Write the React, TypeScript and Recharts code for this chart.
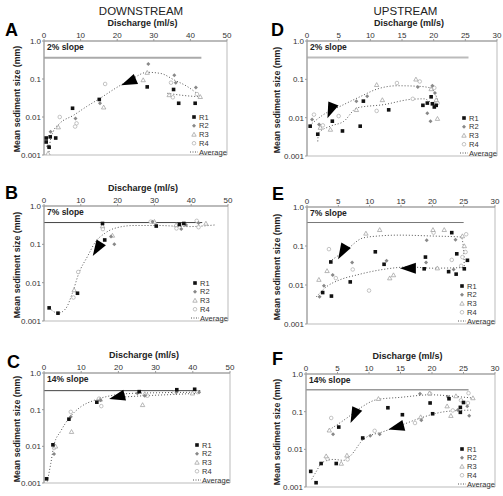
import React from "react";
import { ComposedChart, Scatter, Line, XAxis, YAxis, ReferenceLine, ReferenceArea } from "recharts";

type P = [number, number];

const FONT = '"Liberation Sans", Arial, sans-serif';

// discharge (ml/s), mean sediment size (mm)
const A_R1: P[] = [[0.6, 0.0028], [0.6, 0.0022], [1.4, 0.0016], [1.7, 0.003], [3.2, 0.0028], [7.8, 0.017], [15.1, 0.029], [28.2, 0.062], [35.4, 0.053], [36.8, 0.023], [41.3, 0.023]];
const A_R2: P[] = [[1.1, 0.0017], [1.8, 0.0041], [8.6, 0.0092], [15.3, 0.023], [28.5, 0.25], [35.6, 0.125], [36.0, 0.08], [41.5, 0.06]];
const A_R3: P[] = [[1.1, 0.0011], [3.9, 0.0054], [16.3, 0.018], [27.1, 0.094], [28.2, 0.147], [34.2, 0.038], [42.7, 0.034]];
const A_R4: P[] = [[4.3, 0.01], [8.9, 0.0068], [8.5, 0.0056], [16.7, 0.074], [34.7, 0.08], [35.2, 0.033], [41.8, 0.04]];
const A_AVG: P[] = [[1.3, 0.001], [1.6, 0.002], [2.5, 0.0041], [4.3, 0.0068], [8, 0.011], [11.7, 0.019], [15.3, 0.031], [19.9, 0.06], [24, 0.1], [28.2, 0.15], [31.9, 0.14], [35.6, 0.094], [39.2, 0.063], [42.9, 0.034]];
const A_AVG2: P[] = [[33.7, 0.042], [39.2, 0.036], [42.9, 0.034]];
const A_ARROWS = [{ x: 23.1, y: 0.083, a: 157 }];

const B_R1: P[] = [[1.4, 0.0022], [3.8, 0.0016], [9.1, 0.0053], [16.5, 0.13], [15.9, 0.35], [30.5, 0.3], [36.8, 0.33], [38, 0.35]];
const B_R2: P[] = [[19.1, 0.1], [18.2, 0.16], [29.5, 0.39], [37.3, 0.25], [38.6, 0.32], [42, 0.36]];
const B_R3: P[] = [[8.2, 0.0064], [15.9, 0.3], [18.6, 0.17], [30, 0.39], [35.9, 0.32], [44, 0.35]];
const B_R4: P[] = [[8, 0.0041], [9.3, 0.019], [16, 0.25], [29, 0.39], [36, 0.26], [42, 0.28], [41.5, 0.41]];
const B_AVG: P[] = [[1.4, 0.0022], [3.8, 0.0016], [5.9, 0.0021], [7.7, 0.0053], [9.5, 0.018], [11.8, 0.048], [14.1, 0.12], [16.4, 0.19], [19.1, 0.26], [24.5, 0.31], [30.9, 0.31], [39.1, 0.29], [46.4, 0.32]];
const B_ARROWS = [{ x: 14.4, y: 0.075, a: 122 }];

const C_R1: P[] = [[0.7, 0.0013], [2.4, 0.011], [6.7, 0.055], [14.2, 0.16], [21.1, 0.25], [25.6, 0.31], [35.7, 0.35], [40.5, 0.36]];
const C_R2: P[] = [[2.7, 0.0062], [7.2, 0.064], [15.2, 0.18], [25.1, 0.28], [27.1, 0.24], [35.6, 0.3], [41.7, 0.3]];
const C_R3: P[] = [[3.1, 0.01], [7.4, 0.025], [15.1, 0.19], [26.5, 0.135], [27.1, 0.27], [39.9, 0.28]];
const C_R4: P[] = [[2.7, 0.009], [7.2, 0.087], [14.8, 0.2], [15.4, 0.125], [27.8, 0.24], [35, 0.29], [41.3, 0.3]];
const C_AVG: P[] = [[0.9, 0.0011], [1.8, 0.0033], [2.7, 0.011], [4.5, 0.026], [6.7, 0.058], [9.9, 0.12], [13.5, 0.18], [17.9, 0.24], [24.2, 0.28], [31.4, 0.29], [41.3, 0.3]];
const C_AVG2: P[] = [[21, 0.22], [27, 0.24], [35, 0.26], [41.3, 0.28]];
const C_ARROWS = [{ x: 19.6, y: 0.22, a: 166 }];

const D_R1: P[] = [[0.5, 0.006], [1.7, 0.0037], [4, 0.0081], [5.6, 0.0045], [8.4, 0.006], [8.9, 0.027], [12.9, 0.016], [18.3, 0.021], [19, 0.024], [19.6, 0.035], [19.8, 0.023], [20.1, 0.019], [20.4, 0.021]];
const D_R2: P[] = [[0.8, 0.009], [1.9, 0.0066], [7.8, 0.027], [9.5, 0.036], [17.5, 0.063], [19, 0.013], [19.5, 0.0081], [19.8, 0.068], [20.2, 0.044]];
const D_R3: P[] = [[2.1, 0.0055], [3.7, 0.0049], [7.8, 0.016], [11, 0.072], [11.9, 0.029], [17.2, 0.1], [19.6, 0.056], [20.6, 0.0094], [20.4, 0.029]];
const D_R4: P[] = [[1.1, 0.012], [2.5, 0.0063], [5, 0.011], [11, 0.015], [14.2, 0.08], [16.7, 0.031], [17.8, 0.088], [20.1, 0.06], [20.6, 0.024]];
const D_AVG: P[] = [[0.4, 0.0062], [2.6, 0.012], [5.3, 0.02], [8.5, 0.036], [11.1, 0.056], [14.3, 0.068], [17.5, 0.066], [19.6, 0.059], [20.6, 0.03]];
const D_AVG2: P[] = [[1.7, 0.0024], [1.8, 0.004], [3.7, 0.006], [5.8, 0.008], [7.9, 0.018], [12.2, 0.022], [16.4, 0.03], [18.5, 0.031], [19.8, 0.025], [20.6, 0.03]];
const D_ARROWS = [{ x: 3.7, y: 0.015, a: 112 }];

const E_R1: P[] = [[2.5, 0.0064], [3.8, 0.039], [3.9, 0.0052], [6.9, 0.012], [10.9, 0.071], [12.3, 0.034], [18.7, 0.026], [18.9, 0.052], [22.6, 0.022], [23.1, 0.22], [23.8, 0.019], [23.9, 0.063], [25.1, 0.026], [25.6, 0.043]];
const E_R2: P[] = [[2, 0.005], [2.7, 0.0095], [4.1, 0.018], [7.2, 0.038], [12.7, 0.042], [19, 0.038], [19.1, 0.14], [23.4, 0.025], [23.7, 0.145]];
const E_R3: P[] = [[1.9, 0.0137], [3.2, 0.023], [9.4, 0.21], [11.6, 0.26], [13.2, 0.015], [13.8, 0.018], [20.1, 0.26], [20.8, 0.027], [21.9, 0.26], [24.8, 0.18], [25.1, 0.1]];
const E_R4: P[] = [[3.5, 0.083], [4.6, 0.015], [7.3, 0.025], [9.9, 0.0072], [20.2, 0.22], [23.1, 0.044], [24.6, 0.031], [24.8, 0.052], [25.3, 0.07], [25.4, 0.2]];
const E_AVG: P[] = [[3.6, 0.04], [6.3, 0.08], [8.9, 0.16], [11.3, 0.18], [14.7, 0.19], [20.1, 0.18], [24.6, 0.17], [25, 0.08], [25.1, 0.028]];
const E_AVG2: P[] = [[1.5, 0.005], [3.1, 0.009], [5.2, 0.0135], [7.9, 0.018], [12.1, 0.025], [16.3, 0.029], [20.1, 0.027], [25.1, 0.028]];
const E_ARROWS = [{ x: 5.6, y: 0.069, a: 120 }, { x: 16.1, y: 0.027, a: 180 }];

const F_R1: P[] = [[0.75, 0.0026], [1.6, 0.0013], [2.4, 0.0042], [4.8, 0.0042], [5.2, 0.039], [9, 0.02], [13, 0.127], [15.3, 0.083], [19.7, 0.17], [20.1, 0.088], [22.7, 0.22], [24.5, 0.13], [24.5, 0.096], [25, 0.175]];
const F_R2: P[] = [[4.3, 0.025], [10.2, 0.023], [11.7, 0.025], [18.1, 0.3], [18.3, 0.059], [22.5, 0.25], [24.1, 0.11], [25.6, 0.14], [25.9, 0.078]];
const F_R3: P[] = [[3.2, 0.0066], [3.7, 0.032], [5.6, 0.0042], [6.5, 0.0069], [11.5, 0.22], [18.2, 0.072], [19.6, 0.31], [22.4, 0.14], [23, 0.078], [23.8, 0.26], [26.5, 0.23]];
const F_R4: P[] = [[3.4, 0.0056], [4, 0.068], [6.6, 0.0054], [10.9, 0.031], [17.3, 0.05], [19.7, 0.3], [23.3, 0.108], [24.6, 0.2], [25.7, 0.17], [25.8, 0.31]];
const F_AVG: P[] = [[3.7, 0.033], [6.5, 0.068], [8.6, 0.125], [11.3, 0.21], [15, 0.24], [19.8, 0.28], [24.1, 0.25], [26.5, 0.23]];
const F_AVG2: P[] = [[0.9, 0.0016], [1.7, 0.0027], [2.5, 0.0044], [4.4, 0.0054], [6, 0.0051], [7, 0.0066], [9.2, 0.019], [12.4, 0.03], [15.3, 0.045], [18.2, 0.068], [21.4, 0.096], [24.6, 0.108], [26.2, 0.11]];
const F_ARROWS = [{ x: 7.6, y: 0.078, a: 115 }, { x: 14.3, y: 0.038, a: 165 }];

const DOWN_TICKS = [0, 10, 20, 30, 40, 50];
const UP_TICKS = [0, 5, 10, 15, 20, 25, 30];
const Y_TICKS = [0.001, 0.01, 0.1, 1];
const LEGEND = ["R1", "R2", "R3", "R4", "Average"];

const xy = (pts: P[]) => pts.map(([x, y]) => ({ x, y }));
const fmtY = (v: number) => (v === 1 ? "1.0" : String(v));

const Square = (p: any) => <rect x={p.cx - 1.8} y={p.cy - 1.8} width={3.6} height={3.6} fill="#111" />;
const Diamond = (p: any) => (
  <polygon points={`${p.cx},${p.cy - 2} ${p.cx + 2},${p.cy} ${p.cx},${p.cy + 2} ${p.cx - 2},${p.cy}`} fill="#888" />
);
const Tri = (p: any) => (
  <polygon points={`${p.cx},${p.cy - 2.2} ${p.cx + 2.2},${p.cy + 1.7} ${p.cx - 2.2},${p.cy + 1.7}`} fill="#fff" stroke="#999" strokeWidth={0.7} />
);
const Circ = (p: any) => <circle cx={p.cx} cy={p.cy} r={1.8} fill="#fff" stroke="#aaa" strokeWidth={0.7} />;
const Arrow = (p: any) => {
  const { cx, cy } = p;
  const a = p.payload.a;
  return (
    <polygon
      points={`${cx + 8},${cy} ${cx - 8},${cy - 5.5} ${cx - 8},${cy + 5.5}`}
      fill="#000"
      transform={`rotate(${a} ${cx} ${cy})`}
    />
  );
};

function Legend({ right, bottom }: { right: number; bottom: number }) {
  const x0 = right - 37;
  const y0 = bottom - 42;
  return (
    <svg style={{ position: "absolute", left: x0, top: y0, overflow: "visible" }} width={44} height={46}>
      {LEGEND.map((name, i) => {
        const cy = 4 + i * 8.75;
        const cx = 4;
        let mark = null;
        if (i === 0) mark = <Square cx={cx} cy={cy} />;
        if (i === 1) mark = <Diamond cx={cx} cy={cy} />;
        if (i === 2) mark = <Tri cx={cx} cy={cy} />;
        if (i === 3) mark = <Circ cx={cx} cy={cy} />;
        if (i === 4) mark = <line x1={0} x2={8} y1={cy} y2={cy} stroke="#555" strokeDasharray="1 1.5" />;
        return (
          <g key={name}>
            {mark}
            <text x={9} y={cy + 2.7} fontSize={7.5} fill="#333" fontFamily={FONT}>
              {name}
            </text>
          </g>
        );
      })}
    </svg>
  );
}

function Panel(props: any) {
  const { left, top, w, h, xMax, ticks, slopeY, slopeX, slopeColor, slopeWidth, label, r1, r2, r3, r4, avgs, arrows, title } = props;
  const tick = { fontSize: 8, fill: "#333", fontFamily: FONT };
  return (
    <>
      <div style={{ position: "absolute", left: left - 44, top: top - 22 }}>
        <ComposedChart width={44 + w + 12} height={22 + h + 8} margin={{ top: 0, right: 12, bottom: 8, left: 0 }}>
          <XAxis
            type="number"
            dataKey="x"
            orientation="top"
            domain={[0, xMax]}
            ticks={ticks}
            interval={0}
            allowDataOverflow
            height={22}
            tickSize={2}
            tickMargin={1}
            stroke="#999"
            tick={tick}
          />
          <YAxis
            type="number"
            dataKey="y"
            scale="log"
            domain={[0.001, 1]}
            ticks={Y_TICKS}
            interval={0}
            allowDataOverflow
            width={44}
            tickSize={2}
            tickMargin={1}
            tickFormatter={fmtY}
            stroke="#999"
            tick={tick}
          />
          <ReferenceArea x1={0} x2={xMax} y1={0.001} y2={1} fill="none" stroke="#aaa" strokeWidth={0.8} />
          <ReferenceLine
            segment={[{ x: 0, y: slopeY }, { x: slopeX, y: slopeY }]}
            stroke={slopeColor}
            strokeWidth={slopeWidth}
          />
          {avgs.map((a: P[], i: number) => (
            <Line
              key={i}
              data={xy(a)}
              dataKey="y"
              type="monotone"
              dot={false}
              stroke="#555"
              strokeWidth={1}
              strokeDasharray="1 2"
              isAnimationActive={false}
            />
          ))}
          <Scatter data={xy(r4)} shape={Circ} isAnimationActive={false} />
          <Scatter data={xy(r3)} shape={Tri} isAnimationActive={false} />
          <Scatter data={xy(r2)} shape={Diamond} isAnimationActive={false} />
          <Scatter data={xy(r1)} shape={Square} isAnimationActive={false} />
          <Scatter data={arrows} shape={Arrow} isAnimationActive={false} />
        </ComposedChart>
      </div>
      <div
        style={{
          position: "absolute",
          left: left + 3,
          top: top + 1,
          fontSize: 8.5,
          fontWeight: "bold",
          color: "#222",
          lineHeight: "10px",
          whiteSpace: "nowrap",
        }}
      >
        {label}
      </div>
      {title && (
        <div
          style={{
            position: "absolute",
            left: left + w / 2 + 7,
            top: top - 18,
            transform: "translate(-50%, -50%)",
            fontSize: 9,
            fontWeight: "bold",
            color: "#222",
            whiteSpace: "nowrap",
          }}
        >
          Discharge (ml/s)
        </div>
      )}
      <div
        style={{
          position: "absolute",
          left: left < 200 ? 16.5 : 277,
          top: top + h / 2 + 1,
          transform: "translate(-50%, -50%) rotate(-90deg)",
          fontSize: 8.8,
          fontWeight: "bold",
          color: "#222",
          whiteSpace: "nowrap",
        }}
      >
        Mean sediment size (mm)
      </div>
      <Legend right={left + w} bottom={top + h} />
    </>
  );
}

const letter = (t: string, x: number, y: number) => (
  <div style={{ position: "absolute", left: x, top: y, fontSize: 18, fontWeight: "bold", lineHeight: 1, color: "#000" }}>{t}</div>
);

export default function App() {
  return (
    <div
      style={{
        position: "absolute",
        left: 0,
        top: 0,
        width: 503,
        height: 496,
        background: "#fff",
        fontFamily: FONT,
        overflow: "hidden",
      }}
    >
      <div style={{ position: "absolute", left: 141, top: 5.5, transform: "translateX(-50%)", fontSize: 11.5, lineHeight: 1, color: "#222" }}>
        DOWNSTREAM
      </div>
      <div style={{ position: "absolute", left: 405.5, top: 5.5, transform: "translateX(-50%)", fontSize: 11.5, lineHeight: 1, color: "#222" }}>
        UPSTREAM
      </div>
      {letter("A", 5, 20.7)}
      {letter("B", 5, 183.7)}
      {letter("C", 7, 352.7)}
      {letter("D", 271, 20.7)}
      {letter("E", 272, 184.7)}
      {letter("F", 272, 349.7)}

      <Panel left={44} top={41} w={183} h={114} xMax={50} ticks={DOWN_TICKS} slopeY={0.36} slopeX={43} slopeColor="#aaa" slopeWidth={2}
        label="2% slope" r1={A_R1} r2={A_R2} r3={A_R3} r4={A_R4} avgs={[A_AVG, A_AVG2]} arrows={A_ARROWS} title />
      <Panel left={44} top={206} w={184} h={115} xMax={50} ticks={DOWN_TICKS} slopeY={0.37} slopeX={43} slopeColor="#444" slopeWidth={1}
        label="7% slope" r1={B_R1} r2={B_R2} r3={B_R3} r4={B_R4} avgs={[B_AVG]} arrows={B_ARROWS} title />
      <Panel left={44} top={373} w={186} h={110} xMax={50} ticks={DOWN_TICKS} slopeY={0.33} slopeX={42} slopeColor="#444" slopeWidth={1}
        label="14% slope" r1={C_R1} r2={C_R2} r3={C_R3} r4={C_R4} avgs={[C_AVG, C_AVG2]} arrows={C_ARROWS} title />
      <Panel left={307} top={41} w={190} h={115} xMax={30} ticks={UP_TICKS} slopeY={0.37} slopeX={25.5} slopeColor="#bbb" slopeWidth={2}
        label="2% slope" r1={D_R1} r2={D_R2} r3={D_R3} r4={D_R4} avgs={[D_AVG, D_AVG2]} arrows={D_ARROWS} title />
      <Panel left={307} top={207} w={188} h={117} xMax={30} ticks={UP_TICKS} slopeY={0.4} slopeX={25} slopeColor="#777" slopeWidth={1}
        label="7% slope" r1={E_R1} r2={E_R2} r3={E_R3} r4={E_R4} avgs={[E_AVG, E_AVG2]} arrows={E_ARROWS} title={false} />
      <Panel left={306} top={374} w={189} h={113} xMax={30} ticks={UP_TICKS} slopeY={0.38} slopeX={25.8} slopeColor="#999" slopeWidth={1.5}
        label="14% slope" r1={F_R1} r2={F_R2} r3={F_R3} r4={F_R4} avgs={[F_AVG, F_AVG2]} arrows={F_ARROWS} title />
    </div>
  );
}
